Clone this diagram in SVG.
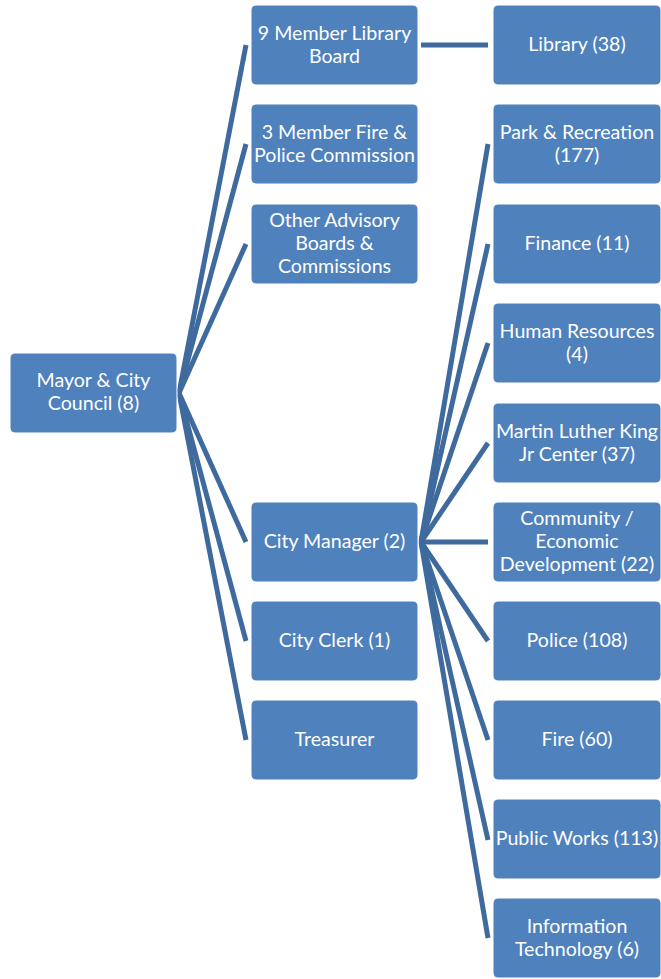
<svg xmlns="http://www.w3.org/2000/svg" width="661" height="979" viewBox="0 0 661 979">
<style>
.box{fill:#4F81BD;stroke:#FFFFFF;stroke-width:1}
.t{font-family:"Lato","Liberation Sans",sans-serif;font-size:19.6px;fill:#FFFFFF;text-anchor:middle}
.c{stroke:#3F6A9E;stroke-width:5;fill:none}
</style>
<rect width="661" height="979" fill="#FFFFFF"/>
<g id="connectors">
<line class="c" x1="179" y1="393" x2="246" y2="45"/>
<line class="c" x1="179" y1="393" x2="246" y2="144"/>
<line class="c" x1="179" y1="393" x2="246" y2="244"/>
<line class="c" x1="179" y1="393" x2="246" y2="542"/>
<line class="c" x1="179" y1="393" x2="246" y2="641"/>
<line class="c" x1="179" y1="393" x2="246" y2="740"/>
<line class="c" x1="421" y1="45" x2="488" y2="45"/>
<line class="c" x1="421" y1="542" x2="488" y2="144"/>
<line class="c" x1="421" y1="542" x2="488" y2="244"/>
<line class="c" x1="421" y1="542" x2="488" y2="343"/>
<line class="c" x1="421" y1="542" x2="488" y2="443"/>
<line class="c" x1="421" y1="542" x2="488" y2="542"/>
<line class="c" x1="421" y1="542" x2="488" y2="641"/>
<line class="c" x1="421" y1="542" x2="488" y2="740"/>
<line class="c" x1="421" y1="542" x2="488" y2="840"/>
<line class="c" x1="421" y1="542" x2="488" y2="938"/>
</g>
<g id="mayor"><rect class="box" x="10" y="353" width="167" height="80" rx="5"/><text class="t" x="93.5" y="387">Mayor &amp; City</text><text class="t" x="93.5" y="410">Council (8)</text></g>
<g id="library-board"><rect class="box" x="251" y="5" width="167" height="80" rx="5"/><text class="t" x="334.5" y="40">9 Member Library</text><text class="t" x="334.5" y="63">Board</text></g>
<g id="fire-police-commission"><rect class="box" x="251" y="104" width="167" height="80" rx="5"/><text class="t" x="334.5" y="139">3 Member Fire &amp;</text><text class="t" x="334.5" y="162">Police Commission</text></g>
<g id="other-boards"><rect class="box" x="251" y="204" width="167" height="80" rx="5"/><text class="t" x="334.5" y="227">Other Advisory</text><text class="t" x="334.5" y="250">Boards &amp;</text><text class="t" x="334.5" y="273">Commissions</text></g>
<g id="city-manager"><rect class="box" x="251" y="502" width="167" height="80" rx="5"/><text class="t" x="334.5" y="548">City Manager (2)</text></g>
<g id="city-clerk"><rect class="box" x="251" y="601" width="167" height="80" rx="5"/><text class="t" x="334.5" y="647">City Clerk (1)</text></g>
<g id="treasurer"><rect class="box" x="251" y="700" width="167" height="80" rx="5"/><text class="t" x="334.5" y="746">Treasurer</text></g>
<g id="library"><rect class="box" x="493" y="5" width="168" height="80" rx="5"/><text class="t" x="577" y="51">Library (38)</text></g>
<g id="park-recreation"><rect class="box" x="493" y="104" width="168" height="80" rx="5"/><text class="t" x="577" y="139">Park &amp; Recreation</text><text class="t" x="577" y="162">(177)</text></g>
<g id="finance"><rect class="box" x="493" y="204" width="168" height="80" rx="5"/><text class="t" x="577" y="250">Finance (11)</text></g>
<g id="human-resources"><rect class="box" x="493" y="303" width="168" height="80" rx="5"/><text class="t" x="577" y="338">Human Resources</text><text class="t" x="577" y="361">(4)</text></g>
<g id="mlk-center"><rect class="box" x="493" y="403" width="168" height="80" rx="5"/><text class="t" x="577" y="438">Martin Luther King</text><text class="t" x="577" y="461">Jr Center (37)</text></g>
<g id="community-development"><rect class="box" x="493" y="502" width="168" height="80" rx="5"/><text class="t" x="577" y="525">Community /</text><text class="t" x="577" y="548">Economic</text><text class="t" x="577" y="571">Development (22)</text></g>
<g id="police"><rect class="box" x="493" y="601" width="168" height="80" rx="5"/><text class="t" x="577" y="647">Police (108)</text></g>
<g id="fire"><rect class="box" x="493" y="700" width="168" height="80" rx="5"/><text class="t" x="577" y="746">Fire (60)</text></g>
<g id="public-works"><rect class="box" x="493" y="799" width="168" height="80" rx="5"/><text class="t" x="577" y="845">Public Works (113)</text></g>
<g id="information-technology"><rect class="box" x="493" y="898" width="168" height="80" rx="5"/><text class="t" x="577" y="933">Information</text><text class="t" x="577" y="956">Technology (6)</text></g>
</svg>
